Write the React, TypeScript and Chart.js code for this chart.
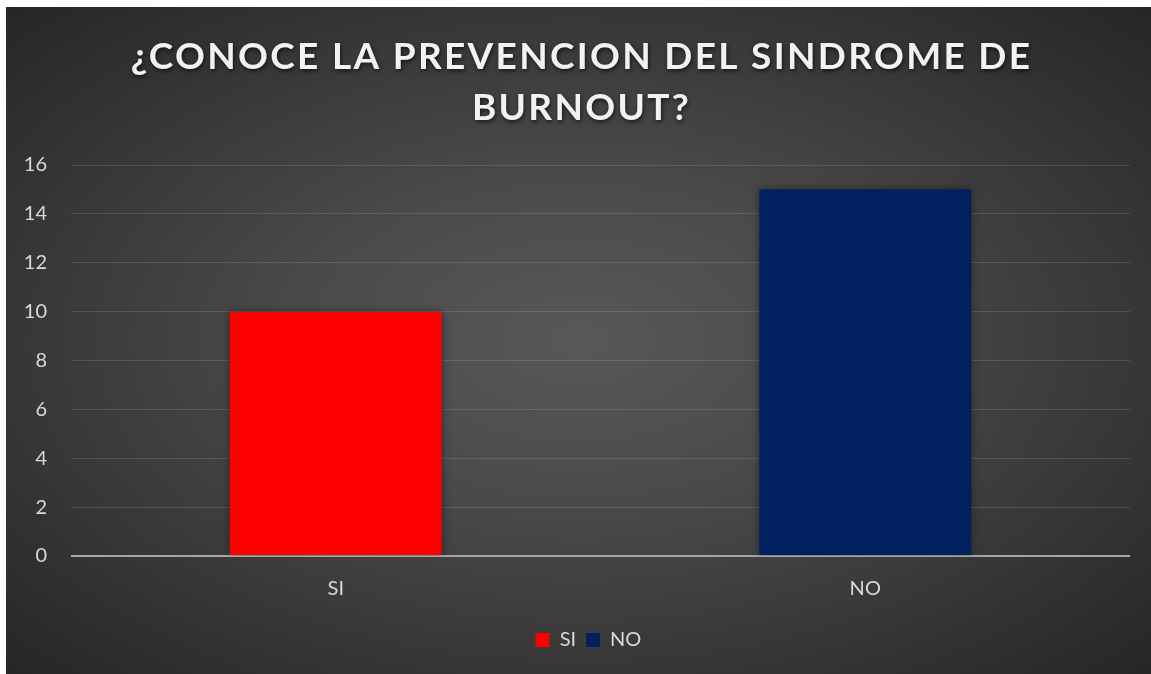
import React, { useEffect, useRef } from "react";
import { Chart, registerables } from "chart.js";

Chart.register(...registerables);

const titleLines = ["¿CONOCE LA PREVENCION DEL SINDROME DE", "BURNOUT?"];
const categories = ["SI", "NO"];
const values = [10, 15];
const barColors = ["#FF0000", "#002060"];
const yMin = 0;
const yMax = 16;
const yStep = 2;

const FONT = "Lato, 'Open Sans', sans-serif";

const titlePlugin = {
  id: "excelTitle",
  afterDraw(chart: any) {
    const ctx = chart.ctx as CanvasRenderingContext2D;
    ctx.save();
    ctx.font = `bold 37px ${FONT}`;
    (ctx as any).letterSpacing = "2.3px";
    ctx.fillStyle = "#f2f2f2";
    ctx.textAlign = "center";
    ctx.textBaseline = "alphabetic";
    ctx.shadowColor = "rgba(0,0,0,0.65)";
    ctx.shadowBlur = 4;
    ctx.shadowOffsetX = 1;
    ctx.shadowOffsetY = 2;
    const cx = chart.width / 2 + 3;
    titleLines.forEach((line, i) => ctx.fillText(line, cx, 62 + i * 51));
    ctx.restore();
  },
};

const barShadowPlugin = {
  id: "barShadow",
  beforeDatasetsDraw(chart: any) {
    const ctx = chart.ctx as CanvasRenderingContext2D;
    ctx.save();
    ctx.shadowColor = "rgba(0,0,0,0.45)";
    ctx.shadowBlur = 8;
    ctx.shadowOffsetX = 0;
    ctx.shadowOffsetY = 0;
  },
  afterDatasetsDraw(chart: any) {
    chart.ctx.restore();
  },
};

// Legend in the reference is centred on the plot area rather than the whole chart.
const legendShiftPlugin = {
  id: "legendShift",
  afterLayout(chart: any) {
    const lg = chart.legend;
    if (!lg) return;
    const area = chart.chartArea;
    const shift = (area.left + area.right) / 2 - (lg.left + lg.right) / 2 - 12;
    lg.left += shift;
    lg.right += shift;
  },
};

export default function App() {
  const canvasRef = useRef<HTMLCanvasElement | null>(null);

  useEffect(() => {
    if (!canvasRef.current) return;
    const datasets = categories.map((cat, i) => ({
      label: cat,
      data: values.map((v, j) => (j === i ? v : null)),
      backgroundColor: barColors[i],
      borderWidth: 0,
      skipNull: true,
      categoryPercentage: 1,
      barPercentage: 0.4,
    }));
    const chart = new Chart(canvasRef.current, {
      type: "bar",
      data: { labels: categories, datasets: datasets as any },
      plugins: [titlePlugin, barShadowPlugin, legendShiftPlugin],
      options: {
        animation: false,
        responsive: true,
        maintainAspectRatio: false,
        layout: { padding: { top: 158, right: 21, bottom: 14, left: 0 } },
        plugins: {
          title: { display: false },
          tooltip: { enabled: false },
          legend: {
            display: true,
            position: "bottom",
            labels: {
              color: "#d9d9d9",
              font: { family: FONT, size: 20 },
              boxWidth: 14,
              boxHeight: 14,
              padding: 10,
            },
          },
        },
        scales: {
          x: {
            grid: { display: false, drawTicks: false },
            border: { display: false },
            ticks: {
              color: "#d9d9d9",
              font: { family: FONT, size: 20 },
              padding: 21,
            },
            afterFit(scale: any) {
              scale.height = 64;
            },
          },
          y: {
            min: yMin,
            max: yMax,
            ticks: {
              stepSize: yStep,
              color: "#d9d9d9",
              font: { family: FONT, size: 20 },
              padding: 24,
            },
            grid: {
              drawTicks: false,
              color: (c: any) =>
                c.tick && c.tick.value === 0 ? "#a6a6a6" : "rgba(255,255,255,0.12)",
              lineWidth: (c: any) => (c.tick && c.tick.value === 0 ? 2 : 1),
            },
            border: { display: false },
            afterFit(scale: any) {
              scale.width = 65;
            },
          },
        },
      },
    });
    return () => chart.destroy();
  }, []);

  return (
    <div
      style={{
        position: "absolute",
        left: 6,
        top: 7,
        width: 1145,
        height: 667,
        background:
          "radial-gradient(ellipse farthest-corner at 50% 50%, #585858 0%, #4a4a4a 35%, #262626 100%)",
      }}
    >
      <canvas ref={canvasRef} />
    </div>
  );
}
